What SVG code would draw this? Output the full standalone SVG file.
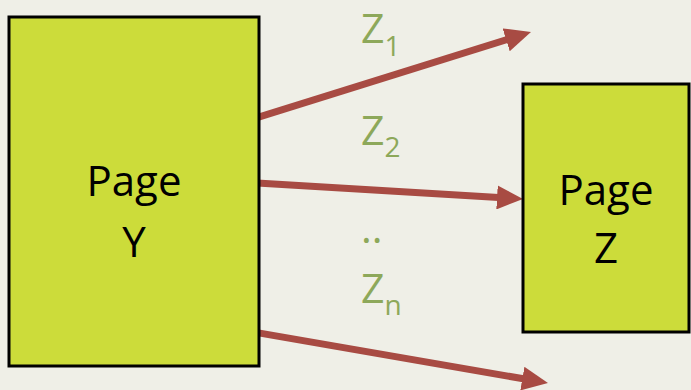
<svg xmlns="http://www.w3.org/2000/svg" width="691" height="390" viewBox="0 0 691 390">
<style>
.box{fill:#CCDC3A;stroke:#000;stroke-width:3}
.lbl{font-family:"Open Sans","Liberation Sans",sans-serif;font-size:42px;fill:#000;text-anchor:middle}
.z{font-family:"Open Sans","Liberation Sans",sans-serif;font-size:41px;fill:#8DA85A}
.sub{font-size:28px}
.arr{stroke:#A84B43;stroke-width:7;fill:none;marker-end:url(#ah)}
</style>
<defs>
<marker id="ah" markerUnits="userSpaceOnUse" markerWidth="26" markerHeight="24" refX="10" refY="12" orient="auto" viewBox="0 0 26 24">
<path d="M0,0 L26,12 L0,24 z" fill="#A84B43"/>
</marker>
</defs>
<rect width="691" height="390" fill="#EFEFE7"/>
<g id="connectors">
<line class="arr" x1="257" y1="117.6" x2="515.7" y2="36.8"/>
<line class="arr" x1="257" y1="182.9" x2="507" y2="198"/>
<line class="arr" x1="257" y1="332.6" x2="532.2" y2="380.3"/>
</g>
<g id="pageY">
<rect class="box" x="9" y="17" width="250" height="349"/>
<text class="lbl" x="134" y="196">Page</text>
<text class="lbl" x="134" y="257">Y</text>
</g>
<g id="pageZ">
<rect class="box" x="523" y="84" width="166" height="248"/>
<text class="lbl" x="606" y="205">Page</text>
<text class="lbl" x="606" y="263">Z</text>
</g>
<g id="labels">
<text class="z" x="361" y="43">Z<tspan class="sub" y="56">1</tspan></text>
<text class="z" x="361" y="145">Z<tspan class="sub" y="157">2</tspan></text>
<text class="z" x="361" y="243">..</text>
<text class="z" x="361" y="303">Z<tspan class="sub" y="315">n</tspan></text>
</g>
</svg>
